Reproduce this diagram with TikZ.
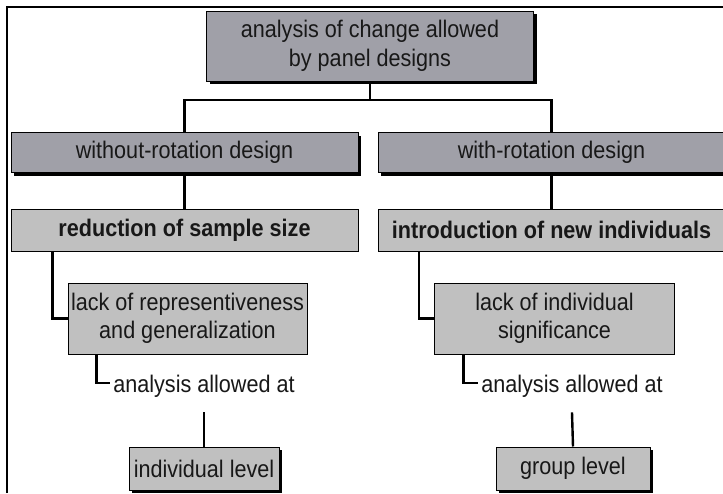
\documentclass[tikz,border=0pt]{standalone}
\usepackage{fontspec}
\setmainfont[FakeStretch=0.9]{Liberation Sans}
\usetikzlibrary{shadows}
\definecolor{darkbox}{RGB}{160,160,168}
\definecolor{lightbox}{RGB}{192,192,192}
\definecolor{ink}{RGB}{24,24,24}
\begin{document}
\begin{tikzpicture}[x=1pt,y=-1pt,
  every node/.style={font=\fontsize{24}{28.5}\selectfont, text=ink, inner sep=0pt},
  box/.style={draw=black, line width=1pt, align=center},
  shad/.style={drop shadow={shadow xshift=3pt, shadow yshift=-3pt, fill=black, opacity=1}},
  darkb/.style={box, fill=darkbox, shad},
  lightb/.style={box, fill=lightbox},
  lightshad/.style={box, fill=lightbox, shad},
  boldtext/.style={font=\fontsize{24}{28.5}\selectfont\bfseries},
  conn/.style={line width=2.4pt, black},
  lbl/.style={inner sep=3pt}
]
\useasboundingbox (0,0) rectangle (723,493);
\fill[white] (0,0) rectangle (723,493);
% frame
\draw[conn] (7,493) -- (7,7) -- (730,7);

% nodes
\node[darkb, minimum width=327pt, minimum height=70pt] (top) at (370,46)
  {analysis of change allowed\\by panel designs};
\node[darkb, minimum width=347pt, minimum height=40pt] (L2a) at (184.5,152.7) {without-rotation design};
\node[darkb, minimum width=347pt, minimum height=40pt] (L2b) at (551.5,152.7) {with-rotation design};
\node[lightb, boldtext, minimum width=347pt, minimum height=42pt] (L3a) at (184.5,230) {reduction of sample size};
\node[lightb, boldtext, minimum width=347pt, minimum height=42pt] (L3b) at (551.5,230) {introduction of new individuals};
\node[lightb, minimum width=239pt, minimum height=71pt] (L4a) at (187.5,318.5) {lack of representiveness\\and generalization};
\node[lightb, minimum width=240pt, minimum height=71pt] (L4b) at (554.5,318.5) {lack of individual\\significance};
\node[lbl] (T1) at (204,386) {analysis allowed at};
\node[lbl] (T2) at (572,386) {analysis allowed at};
\node[lightshad, minimum width=150pt, minimum height=43pt] (F1) at (204,468.5) {individual level};
\node[lightshad, minimum width=154pt, minimum height=43pt] (F2) at (573,468.5) {group level};

% connectors
\coordinate (j) at (370,100);
\draw[conn] (top.south) -- (j);
\draw[conn] (L2a.north) |- (j) -| (L2b.north);
\draw[conn] (L2a.south) -- (L3a.north);
\draw[conn] (L2b.south) -- (L3b.north);
\draw[conn] (L3a.south west) ++(42,0) |- (L4a.west);
\draw[conn] (L3b.south west) ++(41.6,0) |- (L4b.west);
\draw[conn] (L4a.south west) ++(29,0) |- ([yshift=3pt]T1.west);
\draw[conn] (L4b.south west) ++(29.4,0) |- ([yshift=3pt]T2.west);
\draw[conn] ([yshift=-12pt]T1.south) -- (F1.north);
\draw[conn] ([yshift=-12pt]T2.south) -- (F2.north);
\end{tikzpicture}
\end{document}
